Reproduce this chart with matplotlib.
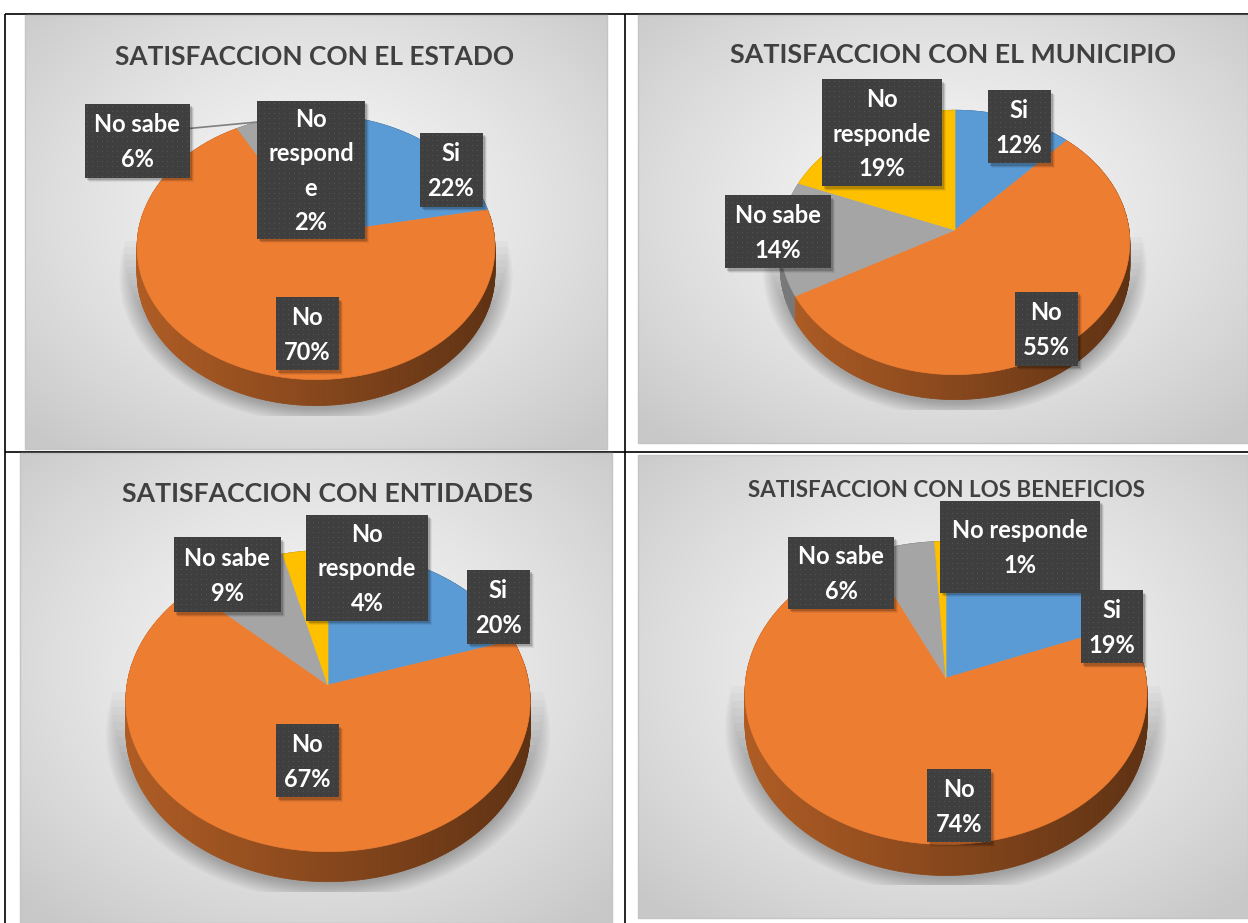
import numpy as np
import matplotlib.pyplot as plt
from matplotlib.patches import Rectangle, Polygon
from matplotlib.collections import PolyCollection
from matplotlib.colors import to_rgb

W, H = 1248, 923
FONT = ['Lato', 'DejaVu Sans']

# ---- data ----
categories = ['Si', 'No', 'No sabe', 'No responde']
slice_colors = ['#5B9BD5', '#ED7D31', '#A5A5A5', '#FFC000']
titles = ['SATISFACCION CON EL ESTADO', 'SATISFACCION CON EL MUNICIPIO',
          'SATISFACCION CON ENTIDADES', 'SATISFACCION CON LOS BENEFICIOS']
estado = [22, 70, 6, 2]
municipio = [12, 55, 14, 19]
entidades = [20, 67, 9, 4]
beneficios = [19, 74, 6, 1]
series = [estado, municipio, entidades, beneficios]

# how the category names got wrapped inside each chart's label boxes
wrapped = [
    ['Si', 'No', 'No sabe', 'No\nrespond\ne'],
    ['Si', 'No', 'No sabe', 'No\nresponde'],
    ['Si', 'No', 'No sabe', 'No\nresponde'],
    ['Si', 'No', 'No sabe', 'No responde'],
]

# ---- layout (pixels, y down) ----
panels = [
    dict(bg=(25, 15, 607, 449), title=(315, 65, 400),
         pie=(316, 234, 178, 131, 0.10, 26),
         boxes=[(451, 170, 63, 74), (307, 334, 63, 73),
                (137, 141, 105, 74), (311, 170, 108, 138)],
         leader=2),
    dict(bg=(638, 15, 1248, 443), title=(953, 63, 447),
         pie=(955, 230, 174, 131, 0.094, 25),
         boxes=[(1019, 127, 63, 73), (1046, 329, 63, 74),
                (778, 232, 106, 73), (882, 133, 120, 107)],
         leader=None),
    dict(bg=(20, 453, 612, 923), title=(327, 502, 411),
         pie=(328, 685, 201, 149, 0.106, 30),
         boxes=[(498, 607, 63, 74), (307, 761, 63, 73),
                (227, 575, 107, 75), (367, 568, 122, 106)],
         leader=None),
    dict(bg=(638, 455, 1248, 918), title=(946, 497, 398),
         pie=(946, 678, 200, 150, 0.099, 31),
         boxes=[(1112, 627, 62, 73), (959, 806, 64, 73),
                (841, 573, 106, 72), (1020, 547, 160, 92)],
         leader=None),
]


def project(pie, theta, r=1.0):
    # tilted disk with a bit of perspective, like Excel's 3-D pie
    cx, cy, sx, sy, p, depth = pie
    u = r * np.sin(theta)
    v = r * np.cos(theta)
    w = 1 + p * v
    return cx + sx * u / w, cy - sy * v / w


def panel_bg(ax, x0, y0, x1, y1):
    w, h = int(x1 - x0), int(y1 - y0)
    yy, xx = np.mgrid[0:h, 0:w]
    dx = (xx - w * 0.5) / (w * 0.5)
    dy = (yy - h * 0.45) / (h * 0.5)
    d = np.clip(np.sqrt(dx ** 2 + dy ** 2) / 1.414, 0, 1)
    g = 0.965 - 0.18 * d ** 1.4
    ax.imshow(np.dstack([g, g, g]), extent=(x0, x1, y1, y0),
              interpolation='bilinear', aspect='auto', zorder=1)
    ax.add_patch(Rectangle((x0, y0), x1 - x0, y1 - y0, fc='none',
                           ec='#c4c4c4', lw=1, zorder=1.5))


def draw_pie(ax, values, pie):
    cx, cy, sx, sy, p, depth = pie
    fr = np.asarray(values, float) / sum(values)
    edges = np.concatenate([[0], np.cumsum(fr)]) * 2 * np.pi

    # soft shadow under the pie, fading in from the widest point downwards
    t = np.linspace(0, 2 * np.pi, 361)
    bx, by = project(pie, t)
    by = by + depth
    mx, my = bx.mean(), by.mean()
    bottom = by.max() + 10
    for k in range(12):
        s = 1 + 0.009 * k
        top = cy + sy * (0.05 + 0.05 * (11 - k))
        clip = Rectangle((cx - 1.3 * sx, top), 2.6 * sx, bottom - top,
                         transform=ax.transData)
        sh = Polygon(np.c_[mx + (bx - mx) * s, my + (by - my) * s + 3],
                     closed=True, fc='black', ec='none', alpha=0.022, zorder=2)
        ax.add_patch(sh)
        sh.set_clip_path(clip)

    # side wall, drawn far to near
    quads, fcs, keys = [], [], []
    for i, c in enumerate(slice_colors):
        n = max(2, int(np.degrees(edges[i + 1] - edges[i])) + 1)
        th = np.linspace(edges[i], edges[i + 1], n)
        x, y = project(pie, th)
        rgb = np.array(to_rgb(c))
        for j in range(n - 1):
            quads.append([(x[j], y[j]), (x[j + 1], y[j + 1]),
                          (x[j + 1], y[j + 1] + depth), (x[j], y[j] + depth)])
            f = (0.5 * (x[j] + x[j + 1]) - (cx - sx)) / (2 * sx)
            fcs.append(np.clip(rgb * (0.74 - 0.34 * f), 0, 1))
            keys.append(-np.cos(0.5 * (th[j] + th[j + 1])))
    order = np.argsort(keys)
    quads = [quads[k] for k in order]
    fcs = [fcs[k] for k in order]
    ax.add_collection(PolyCollection(quads, facecolors=fcs, edgecolors=fcs,
                                     linewidths=0.6, zorder=3))

    # top face
    for i, c in enumerate(slice_colors):
        n = max(2, int(2 * np.degrees(edges[i + 1] - edges[i])) + 1)
        th = np.linspace(edges[i], edges[i + 1], n)
        x, y = project(pie, th)
        pts = np.vstack([[cx, cy], np.c_[x, y]])
        ax.add_patch(Polygon(pts, closed=True, fc=c, ec=c, lw=0.5, zorder=4))
    return edges


def draw_box(ax, bx, by, w, h, text, fs):
    x0, y0 = bx - w / 2, by - h / 2
    for k, a in [(4, 0.06), (3, 0.10), (2, 0.16)]:
        ax.add_patch(Rectangle((x0 + k, y0 + k), w, h, fc='black', ec='none',
                               alpha=a, zorder=6))
    img = np.full((int(round(h)), int(round(w)), 3), 0.25)
    img[2::5, 2::5] = 0.33
    ax.imshow(img, extent=(x0, x0 + w, y0 + h, y0), interpolation='nearest',
              aspect='auto', zorder=7)
    ax.text(bx, by + 1, text, ha='center', va='center', multialignment='center',
            color='white', fontsize=fs, fontweight='bold', family=FONT,
            linespacing=1.6, zorder=8)


fig = plt.figure(figsize=(W / 100, H / 100), dpi=100)
ax = fig.add_axes([0, 0, 1, 1])
ax.set_autoscale_on(False)
ax.set_xlim(0, W)
ax.set_ylim(H, 0)
ax.axis('off')
renderer = fig.canvas.get_renderer()


def fit_size(text, width):
    t = ax.text(0, 0, text, fontsize=20, fontweight='bold', family=FONT)
    bb = t.get_window_extent(renderer)
    t.remove()
    return 20 * width / bb.width


# table lines
for xs, ys in [([5, W], [14, 14]), ([5, 5], [14, H]),
               ([625, 625], [14, H]), ([5, W], [452, 452])]:
    ax.plot(xs, ys, color='black', lw=1.2, zorder=0.5, solid_capstyle='butt')

label_fs = fit_size('No sabe', 86)

for pan, title, vals, names in zip(panels, titles, series, wrapped):
    panel_bg(ax, *pan['bg'])
    tx, ty, tw = pan['title']
    ax.text(tx, ty, title, ha='center', va='baseline', color='#404040',
            fontsize=fit_size(title, tw), fontweight='bold', family=FONT, zorder=5)
    edges = draw_pie(ax, vals, pan['pie'])

    if pan['leader'] is not None:
        i = pan['leader']
        bx, by, bw, bh = pan['boxes'][i]
        mid = 0.5 * (edges[i] + edges[i + 1])
        ex, ey = project(pan['pie'], mid)
        ax.plot([bx + bw / 2, ex], [by - bh / 2 + 0.33 * bh, ey + 1],
                color='#7f7f7f', lw=1.2, zorder=5)

    for (bx, by, bw, bh), name, v in zip(pan['boxes'], names, vals):
        draw_box(ax, bx, by, bw, bh, f'{name}\n{v}%', label_fs)

fig.savefig('out.png', dpi=100)
